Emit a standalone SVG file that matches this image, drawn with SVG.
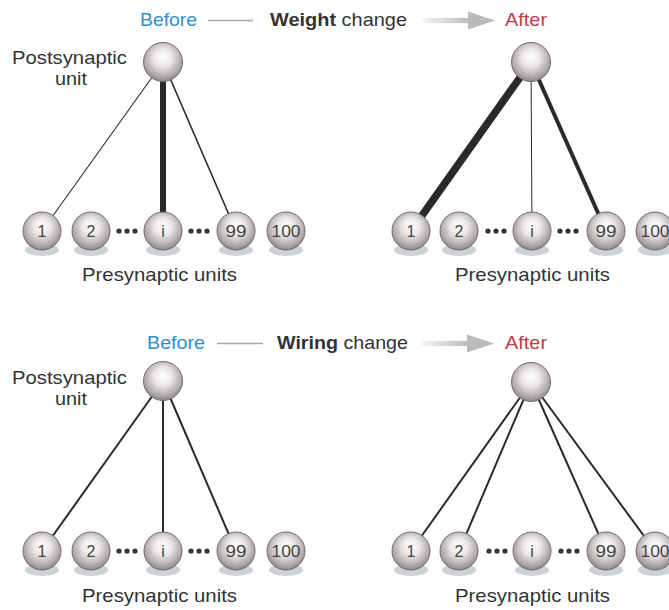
<svg xmlns="http://www.w3.org/2000/svg" width="669" height="610" viewBox="0 0 669 610">
<style>
text{font-family:"Liberation Sans",Arial,Helvetica,sans-serif;fill:#333}
.lbl{font-size:19px}
.num{font-size:16px;text-anchor:middle;fill:#444}
.before{fill:#2e8fd0}
.after{fill:#c23a4b}
.ball{fill:url(#ball);stroke:#736b6c;stroke-width:1}
.shadow{fill:#ccd2d7}
.dot{fill:#333}
.conn{stroke:#2a2a2a;fill:none;stroke-linecap:butt}
.rule{stroke:#a8a8a8;stroke-width:1.3}
</style>
<defs>
<radialGradient id="ball" cx="50%" cy="42%" r="58%" fx="50%" fy="36%">
<stop offset="0" stop-color="#ffffff"/>
<stop offset="0.4" stop-color="#ebe7e7"/>
<stop offset="0.8" stop-color="#b2aaab"/>
<stop offset="1" stop-color="#8e8586"/>
</radialGradient>
<linearGradient id="arrowGrad" x1="0" y1="0" x2="1" y2="0">
<stop offset="0" stop-color="#f6f6f6"/>
<stop offset="1" stop-color="#b9b9b9"/>
</linearGradient>
<g id="bigArrow">
<rect x="0" y="-2.6" width="50" height="5.2" fill="url(#arrowGrad)"/>
<polygon points="46,-9 73,0 46,9" fill="#bababa"/>
</g>
</defs>

<!-- Titles -->
<g id="title-top">
<text class="lbl before" x="140" y="26" textLength="57" lengthAdjust="spacingAndGlyphs">Before</text>
<line class="rule" x1="208" y1="20.5" x2="253" y2="20.5"/>
<text class="lbl" x="270" y="26" textLength="137" lengthAdjust="spacingAndGlyphs"><tspan font-weight="bold">Weight</tspan> change</text>
<use href="#bigArrow" x="422" y="20.5"/>
<text class="lbl after" x="505" y="26" textLength="42" lengthAdjust="spacingAndGlyphs">After</text>
</g>
<g id="title-bottom">
<text class="lbl before" x="147" y="349" textLength="58" lengthAdjust="spacingAndGlyphs">Before</text>
<line class="rule" x1="217" y1="343.5" x2="263" y2="343.5"/>
<text class="lbl" x="277" y="349" textLength="131" lengthAdjust="spacingAndGlyphs"><tspan font-weight="bold">Wiring</tspan> change</text>
<use href="#bigArrow" x="421" y="343.5"/>
<text class="lbl after" x="505" y="349" textLength="42" lengthAdjust="spacingAndGlyphs">After</text>
</g>

<!-- Side labels -->
<g id="labels">
<text class="lbl" x="12" y="64" textLength="115" lengthAdjust="spacingAndGlyphs">Postsynaptic</text>
<text class="lbl" x="55" y="85" textLength="32" lengthAdjust="spacingAndGlyphs">unit</text>
<text class="lbl" x="82" y="281" textLength="155" lengthAdjust="spacingAndGlyphs">Presynaptic units</text>
<text class="lbl" x="455" y="281" textLength="155" lengthAdjust="spacingAndGlyphs">Presynaptic units</text>
<text class="lbl" x="12" y="384" textLength="115" lengthAdjust="spacingAndGlyphs">Postsynaptic</text>
<text class="lbl" x="55" y="405" textLength="32" lengthAdjust="spacingAndGlyphs">unit</text>
<text class="lbl" x="82" y="602" textLength="155" lengthAdjust="spacingAndGlyphs">Presynaptic units</text>
<text class="lbl" x="455" y="602" textLength="155" lengthAdjust="spacingAndGlyphs">Presynaptic units</text>
</g>

<!-- Connectors -->
<g id="connectors">
<line class="conn" x1="163" y1="62" x2="42" y2="231" stroke-width="1.1"/>
<line class="conn" x1="163" y1="62" x2="163" y2="231" stroke-width="6"/>
<line class="conn" x1="163" y1="62" x2="236" y2="231" stroke-width="1.6"/>
<line class="conn" x1="531" y1="62" x2="411" y2="231" stroke-width="7.5"/>
<line class="conn" x1="531" y1="62" x2="532" y2="231" stroke-width="1"/>
<line class="conn" x1="531" y1="62" x2="606" y2="231" stroke-width="4"/>
<line class="conn" x1="163" y1="381" x2="42" y2="551" stroke-width="2"/>
<line class="conn" x1="163" y1="381" x2="163" y2="551" stroke-width="2"/>
<line class="conn" x1="163" y1="381" x2="236" y2="551" stroke-width="2"/>
<line class="conn" x1="531" y1="382" x2="411" y2="551" stroke-width="2"/>
<line class="conn" x1="531" y1="382" x2="459" y2="551" stroke-width="2"/>
<line class="conn" x1="531" y1="382" x2="606" y2="551" stroke-width="2"/>
<line class="conn" x1="531" y1="382" x2="655" y2="551" stroke-width="2"/>
</g>

<!-- Dots -->
<g id="ellipses">
<circle class="dot" cx="119" cy="231" r="2.6"/><circle class="dot" cx="127" cy="231" r="2.6"/><circle class="dot" cx="135" cy="231" r="2.6"/>
<circle class="dot" cx="191" cy="231" r="2.6"/><circle class="dot" cx="199" cy="231" r="2.6"/><circle class="dot" cx="207" cy="231" r="2.6"/>
<circle class="dot" cx="488" cy="231" r="2.6"/><circle class="dot" cx="496" cy="231" r="2.6"/><circle class="dot" cx="504" cy="231" r="2.6"/>
<circle class="dot" cx="560" cy="231" r="2.6"/><circle class="dot" cx="568" cy="231" r="2.6"/><circle class="dot" cx="576" cy="231" r="2.6"/>
<circle class="dot" cx="119" cy="551" r="2.6"/><circle class="dot" cx="127" cy="551" r="2.6"/><circle class="dot" cx="135" cy="551" r="2.6"/>
<circle class="dot" cx="191" cy="551" r="2.6"/><circle class="dot" cx="199" cy="551" r="2.6"/><circle class="dot" cx="207" cy="551" r="2.6"/>
<circle class="dot" cx="489" cy="551" r="2.6"/><circle class="dot" cx="497" cy="551" r="2.6"/><circle class="dot" cx="505" cy="551" r="2.6"/>
<circle class="dot" cx="561" cy="551" r="2.6"/><circle class="dot" cx="569" cy="551" r="2.6"/><circle class="dot" cx="577" cy="551" r="2.6"/>
</g>

<!-- Postsynaptic nodes -->
<g id="post-tl"><circle class="ball" cx="163" cy="62" r="19.5"/></g>
<g id="post-tr"><circle class="ball" cx="531" cy="62" r="19.5"/></g>
<g id="post-bl"><circle class="ball" cx="163" cy="381" r="19.5"/></g>
<g id="post-br"><circle class="ball" cx="531" cy="382" r="19.5"/></g>

<!-- Presynaptic nodes: top-left -->
<g id="tl-1"><ellipse class="shadow" cx="42" cy="250" rx="17" ry="6"/><circle class="ball" cx="42" cy="231" r="19"/><text class="num" x="42" y="237">1</text></g>
<g id="tl-2"><ellipse class="shadow" cx="91" cy="250" rx="17" ry="6"/><circle class="ball" cx="91" cy="231" r="19"/><text class="num" x="91" y="237">2</text></g>
<g id="tl-i"><ellipse class="shadow" cx="163" cy="250" rx="17" ry="6"/><circle class="ball" cx="163" cy="231" r="19"/><text class="num" x="163" y="237">i</text></g>
<g id="tl-99"><ellipse class="shadow" cx="236" cy="250" rx="17" ry="6"/><circle class="ball" cx="236" cy="231" r="19"/><text class="num" x="236" y="237" textLength="21" lengthAdjust="spacingAndGlyphs">99</text></g>
<g id="tl-100"><ellipse class="shadow" cx="286" cy="250" rx="17" ry="6"/><circle class="ball" cx="286" cy="231" r="19"/><text class="num" x="286" y="237" textLength="29" lengthAdjust="spacingAndGlyphs">100</text></g>

<!-- top-right -->
<g id="tr-1"><ellipse class="shadow" cx="411" cy="250" rx="17" ry="6"/><circle class="ball" cx="411" cy="231" r="19"/><text class="num" x="411" y="237">1</text></g>
<g id="tr-2"><ellipse class="shadow" cx="459" cy="250" rx="17" ry="6"/><circle class="ball" cx="459" cy="231" r="19"/><text class="num" x="459" y="237">2</text></g>
<g id="tr-i"><ellipse class="shadow" cx="532" cy="250" rx="17" ry="6"/><circle class="ball" cx="532" cy="231" r="19"/><text class="num" x="532" y="237">i</text></g>
<g id="tr-99"><ellipse class="shadow" cx="606" cy="250" rx="17" ry="6"/><circle class="ball" cx="606" cy="231" r="19"/><text class="num" x="606" y="237" textLength="21" lengthAdjust="spacingAndGlyphs">99</text></g>
<g id="tr-100"><ellipse class="shadow" cx="655" cy="250" rx="17" ry="6"/><circle class="ball" cx="655" cy="231" r="19"/><text class="num" x="655" y="237" textLength="29" lengthAdjust="spacingAndGlyphs">100</text></g>

<!-- bottom-left -->
<g id="bl-1"><ellipse class="shadow" cx="42" cy="570" rx="17" ry="6"/><circle class="ball" cx="42" cy="551" r="19"/><text class="num" x="42" y="557">1</text></g>
<g id="bl-2"><ellipse class="shadow" cx="91" cy="570" rx="17" ry="6"/><circle class="ball" cx="91" cy="551" r="19"/><text class="num" x="91" y="557">2</text></g>
<g id="bl-i"><ellipse class="shadow" cx="163" cy="570" rx="17" ry="6"/><circle class="ball" cx="163" cy="551" r="19"/><text class="num" x="163" y="557">i</text></g>
<g id="bl-99"><ellipse class="shadow" cx="236" cy="570" rx="17" ry="6"/><circle class="ball" cx="236" cy="551" r="19"/><text class="num" x="236" y="557" textLength="21" lengthAdjust="spacingAndGlyphs">99</text></g>
<g id="bl-100"><ellipse class="shadow" cx="286" cy="570" rx="17" ry="6"/><circle class="ball" cx="286" cy="551" r="19"/><text class="num" x="286" y="557" textLength="29" lengthAdjust="spacingAndGlyphs">100</text></g>

<!-- bottom-right -->
<g id="br-1"><ellipse class="shadow" cx="411" cy="570" rx="17" ry="6"/><circle class="ball" cx="411" cy="551" r="19"/><text class="num" x="411" y="557">1</text></g>
<g id="br-2"><ellipse class="shadow" cx="459" cy="570" rx="17" ry="6"/><circle class="ball" cx="459" cy="551" r="19"/><text class="num" x="459" y="557">2</text></g>
<g id="br-i"><ellipse class="shadow" cx="532" cy="570" rx="17" ry="6"/><circle class="ball" cx="532" cy="551" r="19"/><text class="num" x="532" y="557">i</text></g>
<g id="br-99"><ellipse class="shadow" cx="606" cy="570" rx="17" ry="6"/><circle class="ball" cx="606" cy="551" r="19"/><text class="num" x="606" y="557" textLength="21" lengthAdjust="spacingAndGlyphs">99</text></g>
<g id="br-100"><ellipse class="shadow" cx="655" cy="570" rx="17" ry="6"/><circle class="ball" cx="655" cy="551" r="19"/><text class="num" x="655" y="557" textLength="29" lengthAdjust="spacingAndGlyphs">100</text></g>
</svg>
